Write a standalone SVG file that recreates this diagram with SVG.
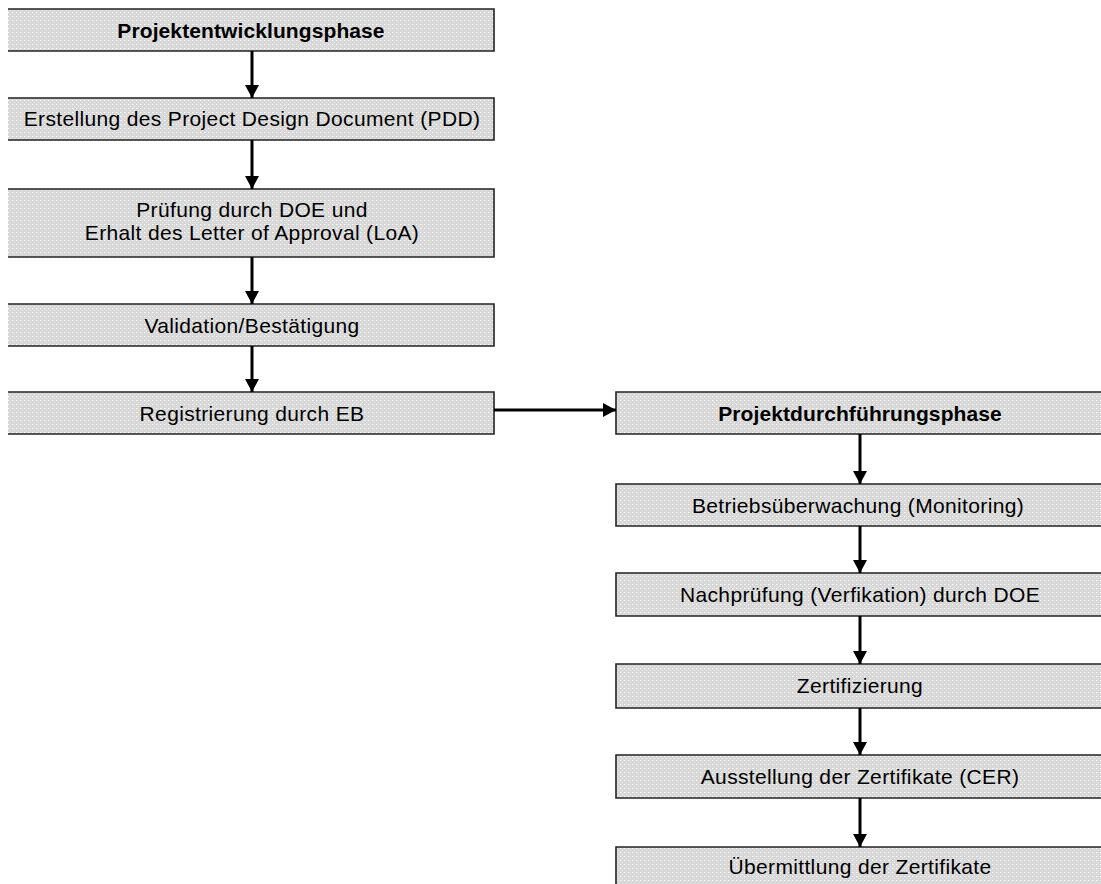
<svg xmlns="http://www.w3.org/2000/svg" width="1101" height="884" viewBox="0 0 1101 884">
<style>
.fill{fill:url(#dots);stroke:none}
.edge{fill:none;stroke:#222;stroke-width:1.6}
.t{font-family:"Liberation Sans",Arial,sans-serif;font-size:21px;fill:#000;text-anchor:middle;letter-spacing:0.35px}
.b{font-weight:bold;letter-spacing:0.1px}
.c{fill:none;stroke:#000;stroke-width:3;marker-end:url(#ah)}
</style>
<defs>
<pattern id="dots" width="4" height="4" patternUnits="userSpaceOnUse">
<rect width="4" height="4" fill="#d7d7d7"/>
<rect x="0" y="0" width="1" height="1" fill="#fff"/>
<rect x="2" y="2" width="1" height="1" fill="#ececec"/>
<rect x="1" y="0" width="1" height="1" fill="#e6e6e6"/>
</pattern>
<marker id="ah" markerUnits="userSpaceOnUse" markerWidth="13" markerHeight="14" refX="13" refY="7" orient="auto">
<path d="M0,0 L13,7 L0,14 z" fill="#000"/>
</marker>
</defs>
<rect width="1101" height="884" fill="#fff"/>

<g id="n1"><rect class="fill" x="8" y="9" width="486" height="42"/><path class="edge" d="M8,9 H494 V51 H8"/><text class="t b" x="251" y="37.5">Projektentwicklungsphase</text></g>
<g id="n2"><rect class="fill" x="8" y="98" width="486" height="42"/><path class="edge" d="M8,98 H494 V140 H8"/><text class="t" x="252" y="126">Erstellung des Project Design Document (PDD)</text></g>
<g id="n3"><rect class="fill" x="8" y="189" width="486" height="68"/><path class="edge" d="M8,189 H494 V257 H8"/><text class="t" x="252" y="217">Prüfung durch DOE und</text><text class="t" x="252" y="240">Erhalt des Letter of Approval (LoA)</text></g>
<g id="n4"><rect class="fill" x="8" y="304" width="486" height="42"/><path class="edge" d="M8,304 H494 V346 H8"/><text class="t" x="252" y="332.5">Validation/Bestätigung</text></g>
<g id="n5"><rect class="fill" x="8" y="392" width="486" height="42"/><path class="edge" d="M8,392 H494 V434 H8"/><text class="t" x="252" y="420.5">Registrierung durch EB</text></g>

<g id="r1"><rect class="fill" x="616" y="392" width="490" height="42"/><path class="edge" d="M1101,392 H616 V434 H1101"/><text class="t b" x="860" y="420.5">Projektdurchführungsphase</text></g>
<g id="r2"><rect class="fill" x="616" y="484" width="490" height="42"/><path class="edge" d="M1101,484 H616 V526 H1101"/><text class="t" x="858" y="512.5">Betriebsüberwachung (Monitoring)</text></g>
<g id="r3"><rect class="fill" x="616" y="573" width="490" height="43"/><path class="edge" d="M1101,573 H616 V616 H1101"/><text class="t" x="860" y="602">Nachprüfung (Verfikation) durch DOE</text></g>
<g id="r4"><rect class="fill" x="616" y="664" width="490" height="44"/><path class="edge" d="M1101,664 H616 V708 H1101"/><text class="t" x="860" y="693">Zertifizierung</text></g>
<g id="r5"><rect class="fill" x="616" y="755" width="490" height="43"/><path class="edge" d="M1101,755 H616 V798 H1101"/><text class="t" x="860" y="784">Ausstellung der Zertifikate (CER)</text></g>
<g id="r6"><rect class="fill" x="616" y="847" width="490" height="43"/><path class="edge" d="M1101,847 H616 V890"/><text class="t" x="860" y="874">Übermittlung der Zertifikate</text></g>

<g id="connectors">
<path class="c" d="M252,51 V98"/>
<path class="c" d="M252,140 V189"/>
<path class="c" d="M252,257 V304"/>
<path class="c" d="M252,346 V392"/>
<path class="c" d="M494,410 H616"/>
<path class="c" d="M860,434 V484"/>
<path class="c" d="M860,526 V573"/>
<path class="c" d="M860,616 V664"/>
<path class="c" d="M860,708 V755"/>
<path class="c" d="M860,798 V847"/>
</g>
</svg>
